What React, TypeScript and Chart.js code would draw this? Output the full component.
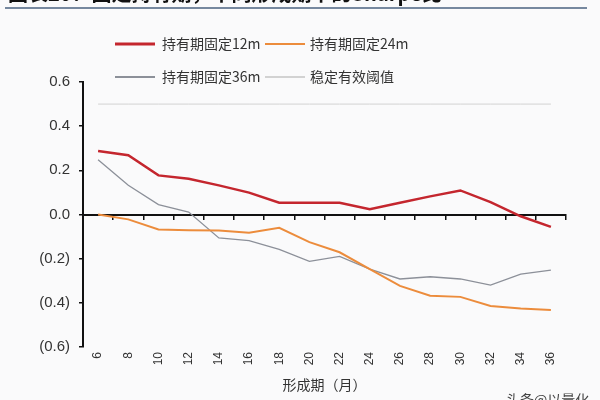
import React, { useEffect, useRef } from "react";
import { Chart, registerables } from "chart.js";

Chart.register(...registerables);

const categories = ["6", "8", "10", "12", "14", "16", "18", "20", "22", "24", "26", "28", "30", "32", "34", "36"];
const hold12m = [0.288, 0.268, 0.177, 0.162, 0.132, 0.099, 0.053, 0.053, 0.053, 0.024, 0.053, 0.082, 0.109, 0.056, -0.008, -0.056];
const hold24m = [0.0, -0.022, -0.068, -0.071, -0.073, -0.083, -0.06, -0.125, -0.171, -0.247, -0.323, -0.368, -0.373, -0.414, -0.426, -0.433];
const hold36m = [0.248, 0.132, 0.045, 0.011, -0.106, -0.118, -0.158, -0.212, -0.19, -0.247, -0.292, -0.282, -0.292, -0.32, -0.27, -0.252];
const threshold = [0.5, 0.5, 0.5, 0.5, 0.5, 0.5, 0.5, 0.5, 0.5, 0.5, 0.5, 0.5, 0.5, 0.5, 0.5, 0.5];
const seriesNames = ["持有期固定12m", "持有期固定24m", "持有期固定36m", "稳定有效阈值"];
const yTicks = [-0.6, -0.4, -0.2, 0, 0.2, 0.4, 0.6];
const titleText = "图表20：固定持有期，不同形成期下的Sharpe比";
const xTitle = "形成期（月）";
const watermark = "头条@以量化";

const colors = ["#c4262e", "#ec8c3c", "#8c9099", "#d2d2d2"];
const widths = [2.5, 2, 1.3, 1];

const decorPlugin = {
  id: "decor",
  afterDraw(chart: any) {
    const ctx = chart.ctx as CanvasRenderingContext2D;
    ctx.save();
    // title (cropped at top)
    ctx.fillStyle = "#111";
    ctx.font = "bold 20px 'Noto Sans CJK SC', 'Liberation Sans', sans-serif";
    ctx.textBaseline = "alphabetic";
    ctx.textAlign = "left";
    ctx.fillText(titleText, 8, 1);
    ctx.strokeStyle = "#4a6280";
    ctx.lineWidth = 1.5;
    ctx.beginPath();
    ctx.moveTo(5, 8);
    ctx.lineTo(587, 8);
    ctx.stroke();
    // legend
    ctx.font = "14px 'Noto Sans CJK SC', sans-serif";
    ctx.textBaseline = "middle";
    chart.data.datasets.forEach((ds: any, i: number) => {
      const col = i % 2;
      const row = Math.floor(i / 2);
      const x0 = col === 0 ? 115 : 265;
      const y = row === 0 ? 44 : 77;
      ctx.strokeStyle = ds.borderColor;
      ctx.lineWidth = i === 0 ? 3 : 2;
      ctx.beginPath();
      ctx.moveTo(x0, y);
      ctx.lineTo(x0 + 40, y);
      ctx.stroke();
      ctx.fillStyle = "#333";
      ctx.fillText(ds.label, x0 + (col === 0 ? 47 : 45), y);
    });
    // watermark
    ctx.font = "14px 'Noto Sans CJK SC', sans-serif";
    ctx.textBaseline = "top";
    ctx.fillStyle = "#444";
    ctx.fillText(watermark, 506, 393);
    ctx.restore();
  },
};

export default function App() {
  const ref = useRef<HTMLCanvasElement | null>(null);
  useEffect(() => {
    if (!ref.current) return;
    const datasets = [hold12m, hold24m, hold36m, threshold].map((d, i) => ({
      label: seriesNames[i],
      data: d,
      borderColor: colors[i],
      backgroundColor: colors[i],
      borderWidth: widths[i],
      pointRadius: 0,
      tension: 0,
      fill: false,
    }));
    const chart = new Chart(ref.current, {
      type: "line",
      data: { labels: categories, datasets },
      plugins: [decorPlugin],
      options: {
        responsive: false,
        animation: false,
        layout: { padding: { top: 82, right: 34, left: 0, bottom: 0 } },
        plugins: { legend: { display: false }, tooltip: { enabled: false }, title: { display: false } },
        scales: {
          x: {
            type: "category",
            position: "bottom",
            offset: true,
            grid: { display: false, drawTicks: false },
            border: { display: false },
            ticks: {
              minRotation: 90,
              maxRotation: 90,
              autoSkip: false,
              padding: 5,
              color: "#333",
              font: { size: 12, family: "'Liberation Sans', Arial, sans-serif" },
            },
            title: {
              display: true,
              text: xTitle,
              color: "#333",
              font: { size: 14, family: "'Noto Sans CJK SC', sans-serif" },
              padding: { top: 0, bottom: 7 },
            },
            afterFit: (s: any) => {
              s.height = 53;
            },
          },
          x2: {
            type: "category",
            labels: categories,
            position: { y: 0 } as any,
            offset: true,
            grid: {
              offset: true,
              drawOnChartArea: false,
              drawTicks: true,
              tickLength: 4,
              color: "#111",
              lineWidth: 1.5,
            },
            border: { display: true, color: "#111", width: 2 },
            ticks: { display: false },
          },
          y: {
            min: -0.6,
            max: 0.6,
            afterBuildTicks: (s: any) => {
              s.ticks = yTicks.map((v) => ({ value: v }));
            },
            afterFit: (s: any) => {
              s.width = 83;
            },
            grid: {
              drawOnChartArea: false,
              drawTicks: true,
              tickLength: 4,
              color: "#111",
              lineWidth: 1.5,
            },
            border: { display: true, color: "#111", width: 2 },
            ticks: {
              padding: 9,
              color: "#333",
              font: { size: 15, family: "'Liberation Sans', Arial, sans-serif" },
              callback: (v: any) => {
                const n = Number(v);
                if (Math.abs(n) < 1e-9) return "0.0";
                return n < 0 ? `(${Math.abs(n).toFixed(1)})` : n.toFixed(1);
              },
            },
          },
        },
      },
    });
    return () => chart.destroy();
  }, []);
  return (
    <div style={{ position: "fixed", left: 0, top: 0, width: 600, height: 400, background: "#fafafb" }}>
      <canvas ref={ref} width={600} height={400} style={{ display: "block" }} />
    </div>
  );
}
